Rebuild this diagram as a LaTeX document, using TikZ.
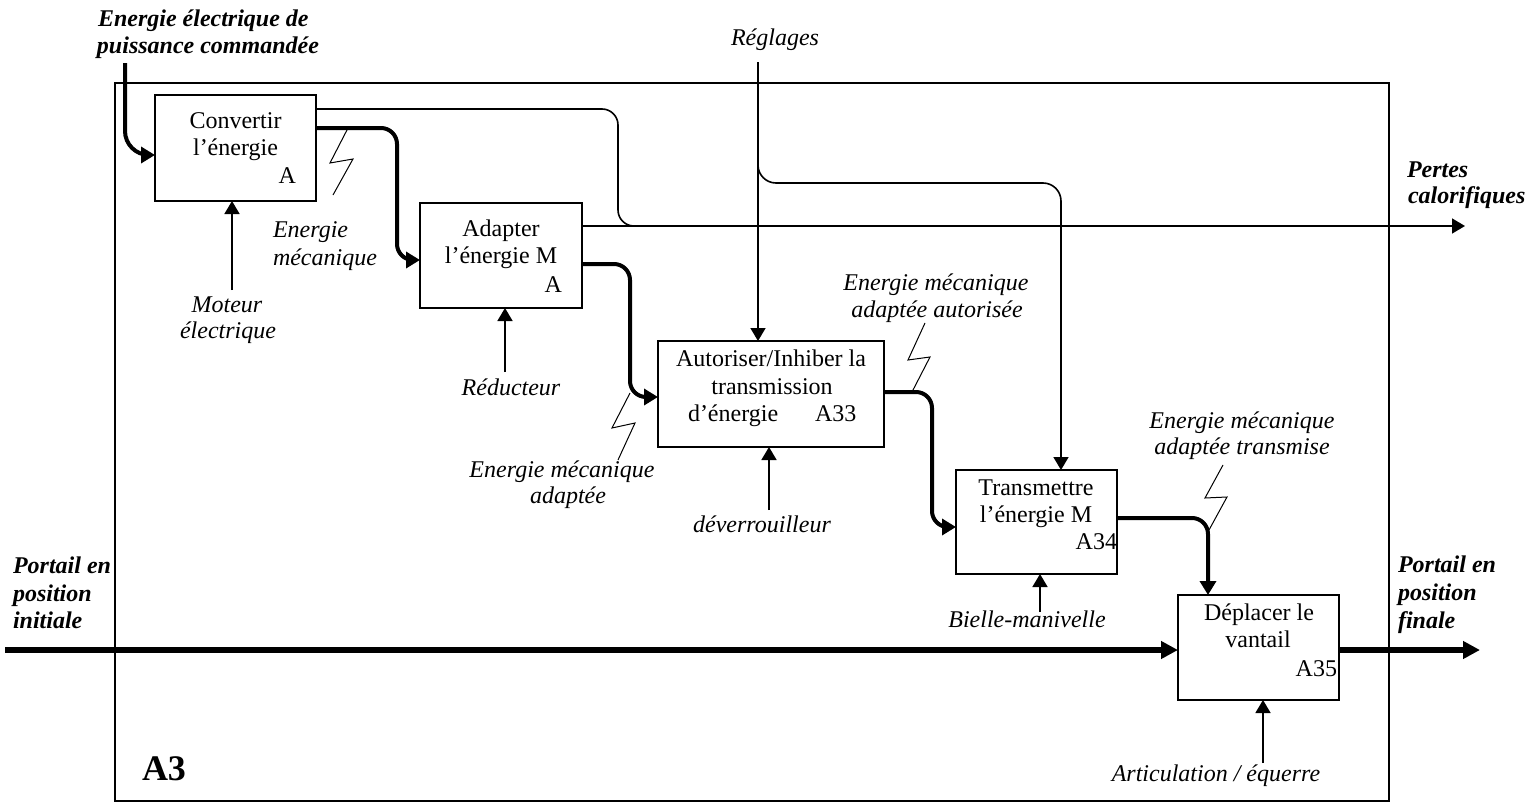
\documentclass[tikz,border=0pt]{standalone}
\usepackage{fontspec}
\setmainfont{Liberation Serif}
\usetikzlibrary{arrows.meta,calc}
\tikzset{
  every node/.style={font=\fontsize{12}{14}\selectfont, inner sep=0pt, outer sep=0pt},
  fbox/.style={draw, line width=1pt, inner sep=0pt, minimum height=53pt},
  thinc/.style={line width=0.8pt},
  thickc/.style={line width=2pt},
  mainc/.style={line width=3pt},
  tipthin/.style={-{Triangle[length=6.5pt,width=7.5pt]}},
  tipthick/.style={-{Triangle[length=7pt,width=8pt]}},
  tipmain/.style={-{Triangle[length=8.5pt,width=8.5pt]}},
  zig/.style={line width=0.5pt},
  lab/.style={anchor=base, font=\fontsize{12}{14}\selectfont\itshape},
  blab/.style={anchor=base west, font=\fontsize{12}{14}\selectfont\bfseries\itshape},
  txt/.style={anchor=base},
}
\begin{document}
\begin{tikzpicture}[x=0.5pt,y=-0.5pt]
\useasboundingbox (0,0) rectangle (1539,803);
% frame
\draw[line width=0.6pt] (115,83) rectangle (1389,801);
\node[anchor=base west, font=\fontsize{18}{20}\selectfont\bfseries] (lA3) at (142,780) {A3};

% boxes
\node[fbox, minimum width=80.5pt, minimum height=53pt] (A1) at (235.5,148) {};
\node[fbox, minimum width=81pt, minimum height=52.5pt] (A2) at (501,255.5) {};
\node[fbox, minimum width=113pt, minimum height=53pt] (A33) at (771,394) {};
\node[fbox, minimum width=80.5pt, minimum height=52pt] (A34) at (1036.5,522) {};
\node[fbox, minimum width=80.5pt, minimum height=52.5pt] (A35) at (1258.5,647.5) {};

% box texts
\node[txt] (t1a) at (235.5,128) {Convertir};
\node[txt] (t1b) at (235.5,155) {l’énergie};
\node[anchor=base east] (t1c) at (296,183) {A};
\node[txt] (t2a) at (501,236) {Adapter};
\node[txt] (t2b) at (501,263) {l’énergie M};
\node[anchor=base east] (t2c) at (562,292) {A};
\node[txt] (t3a) at (771,366) {Autoriser/Inhiber la};
\node[txt] (t3b) at (772,394) {transmission};
\node[anchor=base west] (t3c) at (688,421) {d’énergie};
\node[anchor=base west] (t3d) at (815,421) {A33};
\node[txt] (t4a) at (1036,495) {Transmettre};
\node[txt] (t4b) at (1036,522) {l’énergie M};
\node[anchor=base east] (t4c) at (1117,549) {A34};
\node[txt] (t5a) at (1259,620) {Déplacer le};
\node[txt] (t5b) at (1258,647) {vantail};
\node[anchor=base east] (t5c) at (1337,676) {A35};

% outside labels
\node[blab] (e1) at (98,26) {Energie électrique de};
\node[blab] (e2) at (97,54) {puissance commandée};
\node[blab] (p1) at (1407,177) {Pertes};
\node[blab] (p2) at (1408,203) {calorifiques};
\node[blab] (i1) at (13,573) {Portail en};
\node[blab] (i2) at (13,601) {position};
\node[blab] (i3) at (13,628) {initiale};
\node[blab] (f1) at (1398,572) {Portail en};
\node[blab] (f2) at (1398,600) {position};
\node[blab] (f3) at (1398,628) {finale};

\node[lab] (reg) at (775,46) {Réglages};
\node[lab, anchor=base west] (m1) at (273,237) {Energie};
\node[lab, anchor=base west] (m2) at (273,265) {mécanique};
\node[lab] (mo1) at (227,312) {Moteur};
\node[lab] (mo2) at (228,338) {électrique};
\node[lab] (red) at (511,395) {Réducteur};
\node[lab] (ma1) at (562,477) {Energie mécanique};
\node[lab] (ma2) at (568,503) {adaptée};
\node[lab] (au1) at (936,290) {Energie mécanique};
\node[lab] (au2) at (937,317) {adaptée autorisée};
\node[lab] (dev) at (762,532) {déverrouilleur};
\node[lab] (tr1) at (1242,428) {Energie mécanique};
\node[lab] (tr2) at (1242,454) {adaptée transmise};
\node[lab] (bie) at (1027,627) {Bielle-manivelle};
\node[lab] (art) at (1216,781) {Articulation / équerre};

% coordinates
\coordinate (ein) at (125,63);
\coordinate (regtop) at (758,62);
\coordinate (regbr) at (758,150);
\coordinate (regrt) at (1061,183);
\coordinate (pend) at (1465,226);
\coordinate (mainin) at (5,650);
\coordinate (mainout) at (1480,650);
\coordinate (cmot) at (232,290);
\coordinate (cred) at (505,372);
\coordinate (cdev) at (769,510);
\coordinate (cbie) at (1040,612);
\coordinate (cart) at (1263,763);

% input energy
\draw[thickc, tipthick, rounded corners=12pt] (ein) |- ($(A1.west)+(0,7)$);
% thin output of A1 into losses
\draw[thinc, rounded corners=8pt] ($(A1.north east)+(0,14)$) -- (618,109) -- (618,226) -- (645,226);
% losses
\draw[thinc, tipthin] ($(A2.north east)+(0,23)$) -- (pend);
% A1 -> A2
\draw[thickc, tipthick, rounded corners=8pt] ($(A1.north east)+(0,33)$) -| (397,260) -- ($(A2.north west)+(0,57)$);
% A2 -> A33
\draw[thickc, tipthick, rounded corners=8pt] ($(A2.north east)+(0,61)$) -| (630,397) -- ($(A33.north west)+(0,56)$);
% A33 -> A34
\draw[thickc, tipthick, rounded corners=8pt] ($(A33.north east)+(0,51)$) -| (932,527) -- ($(A34.north west)+(0,57)$);
% A34 -> A35
\draw[thickc, tipthick, rounded corners=8pt] ($(A34.north east)+(0,48)$) -| ($(A35.north)+(-50.5,0)$);
% main flow
\draw[mainc, tipmain] (mainin) -- (mainin -| A35.west);
\draw[mainc, tipmain] (mainin -| A35.east) -- (mainout);
% reglages
\draw[thinc, tipthin] (regtop) -- (regtop |- A33.north);
\draw[thinc, tipthin, rounded corners=9pt] (regbr) |- (regrt) -- (regrt |- A34.north);
% mechanisms
\draw[thinc, tipthin] (cmot) -- (cmot |- A1.south);
\draw[thinc, tipthin] (cred) -- (cred |- A2.south);
\draw[thinc, tipthin] (cdev) -- (cdev |- A33.south);
\draw[thinc, tipthin] (cbie) -- (cbie |- A34.south);
\draw[thinc, tipthin] (cart) -- (cart |- A35.south);

% lightning marks
\draw[zig] (348,128) -- (330,163) -- (353,159) -- (333,195);
\draw[zig] (630,393) -- (612,428) -- (635,423) -- (618,460);
\draw[zig] (925,323) -- (908,360) -- (930,357) -- (912,392);
\draw[zig] (1223,465) -- (1205,498) -- (1227,497) -- (1209,530);
\end{tikzpicture}
\end{document}
